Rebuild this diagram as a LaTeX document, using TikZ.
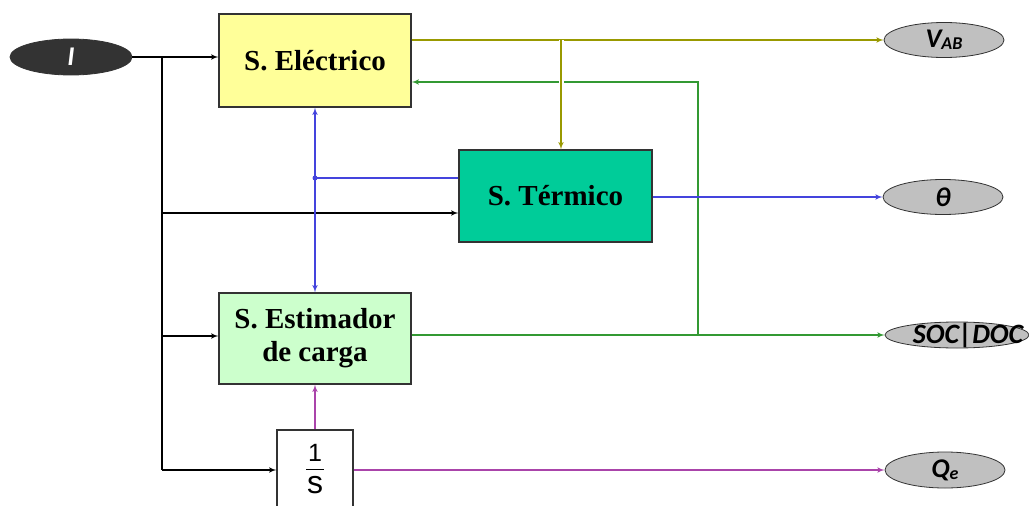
\documentclass[tikz,border=0pt]{standalone}
\usepackage{fontspec}
\setmainfont{Liberation Serif}
\newfontfamily\etiqfont{Carlito}
\newfontfamily\arialfont{Liberation Sans}
\usetikzlibrary{shapes.geometric, arrows, calc}
\usepackage{xcolor}
\definecolor{elecyellow}{RGB}{255, 255, 153}
\definecolor{termgreen}{RGB}{0, 204, 153}
\definecolor{estimgreen}{RGB}{204, 255, 204}
\definecolor{ovalgray}{RGB}{192, 192, 192}
\definecolor{ovaldark}{RGB}{51, 51, 51}
\definecolor{lineolive}{RGB}{153, 153, 0}
\definecolor{linegreen}{RGB}{51, 153, 51}
\definecolor{lineblue}{RGB}{68, 68, 221}
\definecolor{linepurple}{RGB}{170, 68, 170}

\begin{document}
\begin{tikzpicture}[
    x=1pt, y=-1pt,
    block/.style={
        rectangle,
        draw=black!80,
        line width=1.3pt,
        align=center,
        inner sep=0pt,
        font=\bfseries\fontsize{29}{33}\selectfont
    },
    salida/.style={
        ellipse,
        draw=black!80,
        thick,
        fill=ovalgray,
        inner sep=0pt,
        minimum width=120pt,
        minimum height=35pt,
        font=\etiqfont\bfseries\itshape\fontsize{27}{27}\selectfont
    },
    line/.style={draw, line width=1.5pt, -latex'}
]
    \useasboundingbox (0,0) rectangle (1029,506);
    \clip (0,0) rectangle (1029,506);

    % Nodos
    \node [salida, fill=ovaldark, text=white, minimum width=122pt, minimum height=36pt] (input) at (71,57) {I};

    \node [block, fill=elecyellow, minimum width=192pt, minimum height=93pt] (elec) at (315,60.5) {S. Eléctrico};

    \node [block, fill=termgreen, minimum width=193pt, minimum height=92pt] (term) at (555.5,196) {S. Térmico};

    \node [block, fill=estimgreen, minimum width=192pt, minimum height=91pt] (estim) at (315,338.5) {S. Estimador\\de carga};

    \node [block, fill=white, minimum width=76pt, minimum height=78pt, font=\arialfont] (integ) at (315,469)
        {{\fontsize{25}{25}\selectfont 1}\\[-3pt]\rule{18pt}{1.6pt}\\[5pt]{\fontsize{32}{20}\selectfont s}};

    \node [salida] (vab) at (944,40) {V\raisebox{-2pt}{\fontsize{18}{18}\selectfont AB}};
    \node [salida] (theta) at (943,197) {θ};
    \node [salida, minimum width=144pt, minimum height=26pt,
        label={[font=\etiqfont\bfseries\itshape\fontsize{28}{28}\selectfont, xshift=11pt]center:SOC|DOC}] (soc) at (957,335) {};
    \node [salida, minimum height=36pt] (qe) at (945,470) {Q\raisebox{-2pt}{\fontsize{18}{18}\selectfont e}};

    % Coordenadas de los cruces
    \coordinate (tronco) at (162,57);
    \coordinate (tbajo) at (162,470);
    \coordinate (vsplit) at (561,40);
    \coordinate (gsplit) at (698,335);
    \coordinate (gfb) at (698,82);
    \coordinate (bjun) at (315,178);

    % Conexiones
    \path [line, draw=black] (input) -- (input -| elec.west);
    \draw [line width=1.5pt, black] (tronco) -- (tbajo);
    \path [line, draw=black] (162,213) -- (term.west |- 0,213);
    \path [line, draw=black] (162,336) -- (estim.west |- 0,336);
    \path [line, draw=black] (tbajo) -- (tbajo -| integ.west);

    \path [line, draw=linegreen] (estim.east |- gsplit) -- (soc.west);
    \path [line, draw=linegreen] (gsplit) -- (gfb) -- (gfb -| elec.east);

    \path [line, draw=lineolive] (vab -| elec.east) -- (vab.west);
    \path [line, draw=lineolive, preaction={draw=white, line width=5pt}] (vsplit) -- (vsplit |- term.north);

    \path [line, draw=lineblue] (theta -| term.east) -- (theta.west);
    \draw [line width=1.5pt, lineblue] (term.west |- bjun) -- (bjun);
    \path [line, draw=lineblue] (bjun) -- (elec.south);
    \path [line, draw=lineblue] (bjun) -- (estim.north);
    \fill [lineblue] (bjun) circle (2.5pt);

    \path [line, draw=linepurple] (integ.north) -- (estim.south);
    \path [line, draw=linepurple] (tbajo -| integ.east) -- (qe.west);

\end{tikzpicture}
\end{document}
